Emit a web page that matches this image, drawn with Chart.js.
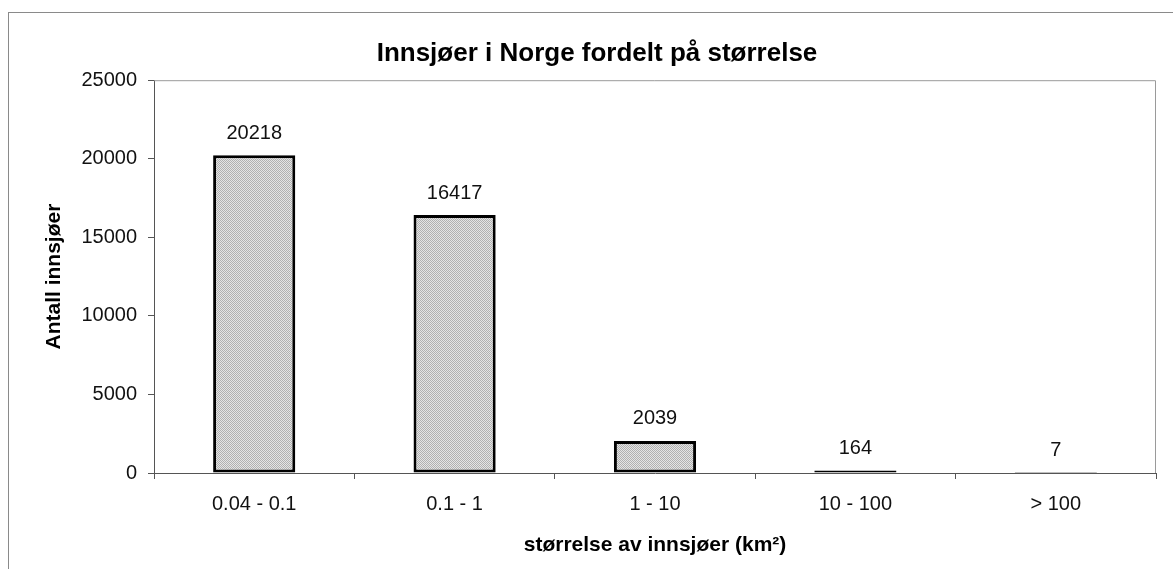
<!DOCTYPE html>
<html>
<head>
<meta charset="utf-8">
<title>Innsjøer i Norge fordelt på størrelse</title>
<script src="https://cdn.jsdelivr.net/npm/chart.js@4.4.1/dist/chart.umd.min.js"></script>
<style>
    html, body {
        margin: 0;
        padding: 0;
        background: #ffffff;
    }

    #wrap {
        position: relative;
        width: 1173px;
        height: 569px;
        overflow: hidden;
    }

    /* outer frame of the chart object */
    #frame {
        position: absolute;
        left: 8px;
        top: 12px;
        width: 1200px;
        height: 600px;
        border-left: 1px solid #8a8a8a;
        border-top: 1px solid #8a8a8a;
        pointer-events: none;
    }
</style>
</head>
<body>
<div id="wrap">
    <canvas id="lakeChart" width="1173" height="569"></canvas>
    <div id="frame"></div>
</div>

<script>
"use strict";

// ------------------------------------
// Chart data
// ------------------------------------

const sizeClasses = ["0.04 - 0.1", "0.1 - 1", "1 - 10", "10 - 100", "> 100"];

const lakeCounts = [20218, 16417, 2039, 164, 7];

const yTicks = [0, 5000, 10000, 15000, 20000, 25000];

const FONT = "'Liberation Sans', Arial, sans-serif";

/**
 * Builds a small dithered grey pattern, like the
 * old printed fill of the bars.
 */
function makeDitherFill(ctx) {

    const tile = document.createElement("canvas");
    tile.width = 2;
    tile.height = 2;

    const t = tile.getContext("2d");
    t.fillStyle = "#e4e4e4";
    t.fillRect(0, 0, 2, 2);
    t.fillStyle = "#b0b0b0";
    t.fillRect(0, 0, 1, 1);
    t.fillRect(1, 1, 1, 1);

    return ctx.createPattern(tile, "repeat");
}

// Draws the value above each bar.
const valueLabels = {

    id: "valueLabels",

    afterDatasetsDraw(chart) {

        const ctx = chart.ctx;
        const meta = chart.getDatasetMeta(0);

        ctx.save();
        ctx.font = "20px " + FONT;
        ctx.fillStyle = "#111111";
        ctx.textAlign = "center";
        ctx.textBaseline = "middle";

        meta.data.forEach((bar, i) => {
            ctx.fillText(String(lakeCounts[i]), bar.x, bar.y - 22);
        });

        ctx.restore();
    }
};

// Thin frame on the top and right side of the plot area.
const plotFrame = {

    id: "plotFrame",

    beforeDatasetsDraw(chart) {

        const a = chart.chartArea;
        const ctx = chart.ctx;

        ctx.save();
        ctx.strokeStyle = "#9a9a9a";
        ctx.lineWidth = 1;
        ctx.beginPath();
        ctx.moveTo(a.left, a.top + 0.5);
        ctx.lineTo(a.right - 0.5, a.top + 0.5);
        ctx.lineTo(a.right - 0.5, a.bottom);
        ctx.stroke();
        ctx.restore();
    }
};

const canvas = document.querySelector("#lakeChart");
const ctx2d = canvas.getContext("2d");

new Chart(canvas, {

    type: "bar",

    data: {
        labels: sizeClasses,
        datasets: [
            {
                label: "Antall innsjøer",
                data: lakeCounts,
                backgroundColor: makeDitherFill(ctx2d),
                borderColor: "#000000",
                borderWidth: 3,
                borderSkipped: false,
                barPercentage: 0.41,
                categoryPercentage: 1
            }
        ]
    },

    options: {

        responsive: false,
        animation: false,
        devicePixelRatio: 1,

        layout: {
            padding: { left: 38, right: 17, top: 0, bottom: 0 }
        },

        plugins: {
            legend: { display: false },
            tooltip: { enabled: false },
            title: {
                display: true,
                text: "Innsjøer i Norge fordelt på størrelse",
                color: "#000000",
                font: { family: FONT, size: 26, weight: "bold" },
                padding: { top: 38, bottom: 11 }
            }
        },

        scales: {

            x: {
                afterFit(scale) {
                    scale.height = 96;
                },
                grid: {
                    display: true,
                    drawOnChartArea: false,
                    drawTicks: true,
                    tickLength: 6,
                    color: "#555555"
                },
                border: { display: true, color: "#555555", width: 1 },
                ticks: {
                    color: "#111111",
                    padding: 13,
                    maxRotation: 0,
                    font: { family: FONT, size: 20 }
                },
                title: {
                    display: true,
                    text: "størrelse av innsjøer (km²)",
                    color: "#000000",
                    font: { family: FONT, size: 21, weight: "bold" },
                    padding: { top: 0, bottom: 11 }
                }
            },

            y: {
                min: 0,
                max: 25000,
                afterFit(scale) {
                    scale.width = 116;
                },
                afterBuildTicks(scale) {
                    scale.ticks = yTicks.map(v => ({ value: v }));
                },
                grid: {
                    display: true,
                    drawOnChartArea: false,
                    drawTicks: true,
                    tickLength: 6,
                    color: "#555555"
                },
                border: { display: true, color: "#555555", width: 1 },
                ticks: {
                    color: "#111111",
                    padding: 11,
                    font: { family: FONT, size: 20 },
                    callback: value => String(value)
                },
                title: {
                    display: true,
                    text: "Antall innsjøer",
                    color: "#000000",
                    font: { family: FONT, size: 21, weight: "bold" },
                    padding: { top: 4, bottom: 0 }
                }
            }
        }
    },

    plugins: [valueLabels, plotFrame]
});
</script>
</body>
</html>
